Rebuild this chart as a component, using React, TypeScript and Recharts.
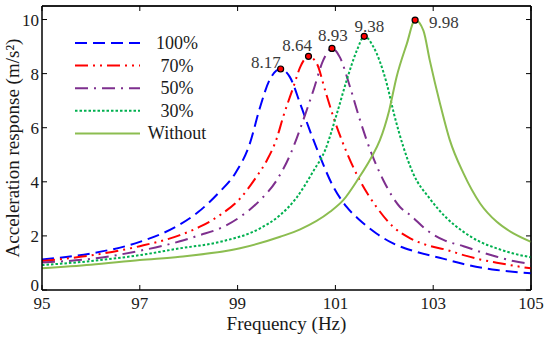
import React from 'react';
import { ComposedChart, Line, Scatter, XAxis, YAxis, ReferenceLine } from 'recharts';

// ---------- data ----------
const seriesNames = ['100%', '70%', '50%', '30%', 'Without'];

const freq100 = [95, 96, 97, 97.8, 98.2, 98.6, 98.95, 99.25, 99.45, 99.65, 99.88, 100.07, 100.28, 100.45, 100.62, 100.96, 101.23, 101.5, 101.84, 102.18, 102.66, 103.2, 103.62, 104.3, 105];
const acc100 = [1.13, 1.35, 1.78, 2.4, 2.89, 3.57, 4.31, 5.41, 6.7, 7.75, 8.17, 7.87, 6.89, 6.03, 5.23, 3.81, 3.07, 2.58, 2.09, 1.72, 1.41, 1.16, 0.96, 0.74, 0.62];

const freq70 = [95, 96, 97, 97.82, 98.23, 98.64, 99.05, 99.36, 99.6, 99.8, 99.93, 100.14, 100.28, 100.45, 100.62, 100.79, 100.96, 101.13, 101.5, 101.84, 102.18, 102.53, 102.87, 103.28, 103.62, 103.96, 104.3, 104.64, 105];
const acc70 = [1.07, 1.28, 1.62, 2.03, 2.34, 2.77, 3.38, 4.12, 4.8, 5.6, 6.39, 7.5, 8.24, 8.64, 8.37, 7.38, 6.39, 5.54, 4.05, 3.07, 2.34, 1.91, 1.66, 1.48, 1.29, 1.13, 1.01, 0.9, 0.8];

const freq50 = [95, 96, 97, 97.82, 98.23, 98.64, 99.05, 99.46, 99.8, 100.07, 100.34, 100.55, 100.75, 100.93, 101.09, 101.3, 101.5, 101.74, 101.98, 102.32, 102.53, 102.87, 103.21, 103.62, 103.96, 104.3, 104.64, 105];
const acc50 = [1.02, 1.15, 1.45, 1.8, 2.03, 2.28, 2.7, 3.32, 4.06, 4.98, 6.27, 7.38, 8.49, 8.93, 8.61, 7.5, 6.3, 5.04, 4.06, 3.07, 2.77, 2.21, 1.85, 1.62, 1.41, 1.23, 1.07, 0.96];

const freq30 = [95, 96, 97, 97.82, 98.64, 99.46, 99.87, 100.2, 100.55, 100.79, 101.03, 101.23, 101.44, 101.59, 101.78, 102.05, 102.2, 102.39, 102.59, 102.93, 103.28, 103.62, 103.96, 104.3, 104.64, 105];
const acc30 = [0.92, 1.07, 1.29, 1.54, 1.78, 2.28, 2.77, 3.4, 4.4, 5.17, 6.52, 7.75, 8.86, 9.38, 8.98, 7.63, 6.5, 5.29, 4.31, 3.38, 2.65, 2.15, 1.78, 1.54, 1.35, 1.21];

const freqWithout = [95, 96, 97, 97.82, 99.05, 99.87, 100.28, 100.89, 101.16, 101.47, 101.74, 101.91, 102.1, 102.25, 102.46, 102.63, 102.8, 102.93, 103.14, 103.34, 103.62, 103.96, 104.3, 104.64, 105];
const accWithout = [0.8, 0.93, 1.11, 1.23, 1.54, 1.97, 2.24, 2.89, 3.32, 4.12, 4.92, 5.54, 6.64, 7.87, 9.1, 9.98, 9.59, 8.49, 6.89, 5.54, 4.31, 3.2, 2.52, 2.09, 1.78];

const peakFreq = [99.88, 100.45, 100.93, 101.59, 102.63];
const peakAcc = [8.17, 8.64, 8.93, 9.38, 9.98];
const peakLabels = ['8.17', '8.64', '8.93', '9.38', '9.98'];

const xDomain = [95, 105];
const yDomain = [0, 10.5];
const xTicks = [95, 97, 99, 101, 103, 105];
const yTicks = [0, 2, 4, 6, 8, 10];

// ---------- styling ----------
const FONT = '"Liberation Serif", "Times New Roman", serif';
const seriesStyles = [
  { color: '#0000FF', dash: '12 6' },
  { color: '#FF0000', dash: '13 5 2 5 2 5' },
  { color: '#7E2F8E', dash: '13 6 2 6' },
  { color: '#00B04F', dash: '2.5 2' },
  { color: '#8CBD50', dash: undefined as string | undefined },
];
const labelOffsets = [
  { dx: 0, dy: -1, anchor: 'end' },
  { dx: -11.5, dy: -5.5, anchor: 'middle' },
  { dx: 1, dy: -7, anchor: 'middle' },
  { dx: 5, dy: -4.5, anchor: 'middle' },
  { dx: 14, dy: 8, anchor: 'start' },
];

// ---------- merged table for the chart ----------
const seriesFreqs = [freq100, freq70, freq50, freq30, freqWithout];
const seriesAccs = [acc100, acc70, acc50, acc30, accWithout];
const allFreqs = Array.from(new Set([...freq100, ...freq70, ...freq50, ...freq30, ...freqWithout, ...peakFreq])).sort((a, b) => a - b);
const table = allFreqs.map((f) => {
  const row: any = { f };
  seriesFreqs.forEach((fs, s) => {
    const j = fs.indexOf(f);
    if (j >= 0) row['s' + s] = seriesAccs[s][j];
  });
  const p = peakFreq.indexOf(f);
  if (p >= 0) {
    row.peak = peakAcc[p];
    row.label = peakLabels[p];
    row.idx = p;
  }
  return row;
});

const PeakShape = (props: any) => {
  const { cx, cy, payload } = props;
  if (!payload || payload.idx == null || !Number.isFinite(cx) || !Number.isFinite(cy)) return <g />;
  const o = labelOffsets[payload.idx];
  return (
    <g>
      <circle cx={cx} cy={cy} r={3} fill="#FF0000" stroke="#000" strokeWidth={1.2} />
      <text x={cx + o.dx} y={cy + o.dy} textAnchor={o.anchor as any} fontFamily={FONT} fontSize={17} fill="#3a3a3a">
        {payload.label}
      </text>
    </g>
  );
};

const LegendBox = () => (
  <svg width={170} height={120} style={{ position: 'absolute', left: 60, top: 28, overflow: 'visible', pointerEvents: 'none' }}>
    {seriesNames.map((name, i) => {
      const y = 15 + i * 22.6;
      const s = seriesStyles[i];
      return (
        <g key={name}>
          <line x1={15} x2={80} y1={y} y2={y} stroke={s.color} strokeWidth={2} strokeDasharray={s.dash} />
          <text x={117} y={y + 6} textAnchor="middle" fontFamily={FONT} fontSize={18} fill="#1a1a1a">
            {name}
          </text>
        </g>
      );
    })}
  </svg>
);

const YLabel = (props: any) => {
  const vb = props.viewBox || {};
  const x = (vb.x ?? 0) + 19;
  const y = (vb.y ?? 0) + (vb.height ?? 0) / 2;
  return (
    <text x={x} y={y} transform={`rotate(-90 ${x} ${y})`} textAnchor="middle" fontFamily={FONT} fontSize={19} fill="#1a1a1a">
      Acceleration response (m/s²)
    </text>
  );
};

const XLabel = (props: any) => {
  const vb = props.viewBox || {};
  const x = (vb.x ?? 0) + (vb.width ?? 0) / 2;
  const y = (vb.y ?? 0) + 40;
  return (
    <text x={x} y={y} textAnchor="middle" fontFamily={FONT} fontSize={19} fill="#1a1a1a">
      Frequency (Hz)
    </text>
  );
};

const YTick = (props: any) => {
  const { x, y, payload } = props;
  const lift = payload.value === 0 ? -5 : 0;
  return (
    <text x={x} y={y + lift} dy={6} textAnchor="end" fontFamily={FONT} fontSize={17} fill="#1a1a1a">
      {payload.value}
    </text>
  );
};

const tickStyle = { fontFamily: FONT, fontSize: 17, fill: '#1a1a1a' };
const axisLine = { stroke: '#000', strokeWidth: 1.5 };
const tickLine = { stroke: '#000', strokeWidth: 1 };

export default function App() {
  const [, x1] = xDomain;
  const [, y1] = yDomain;
  return (
    <div style={{ position: 'absolute', left: 0, top: 0, width: 550, height: 340, background: '#fff' }}>
      <ComposedChart width={550} height={340} data={table} margin={{ top: 6, right: 19, bottom: 0, left: 0 }}>
        <XAxis
          xAxisId="bottom"
          dataKey="f"
          type="number"
          domain={xDomain}
          ticks={xTicks}
          height={50}
          tickSize={-5}
          tickMargin={12}
          tick={tickStyle}
          stroke="#000"
          axisLine={axisLine}
          tickLine={tickLine}
          label={<XLabel />}
        />
        <YAxis
          yAxisId="left"
          type="number"
          domain={yDomain}
          ticks={yTicks}
          width={42}
          tickSize={-5}
          tickMargin={8}
          tick={<YTick />}
          stroke="#000"
          axisLine={axisLine}
          tickLine={tickLine}
          label={<YLabel />}
        />
        <XAxis
          xAxisId="top"
          orientation="top"
          mirror
          dataKey="f"
          type="number"
          domain={xDomain}
          ticks={xTicks}
          tickSize={5}
          tickFormatter={() => ''}
          stroke="#000"
        />
        <YAxis
          yAxisId="right"
          orientation="right"
          mirror
          type="number"
          domain={yDomain}
          ticks={yTicks}
          tickSize={5}
          tickFormatter={() => ''}
          stroke="#000"
        />
        <ReferenceLine xAxisId="bottom" yAxisId="left" y={y1} stroke="#000" strokeWidth={1.5} ifOverflow="visible" />
        <ReferenceLine xAxisId="bottom" yAxisId="left" x={x1} stroke="#000" strokeWidth={1.5} ifOverflow="visible" />
        {seriesNames.map((name, i) => (
          <Line
            key={name}
            xAxisId="bottom"
            yAxisId="left"
            dataKey={'s' + i}
            name={name}
            type="monotone"
            connectNulls
            stroke={seriesStyles[i].color}
            strokeWidth={2}
            strokeDasharray={seriesStyles[i].dash}
            dot={false}
            activeDot={false}
            isAnimationActive={false}
          />
        ))}
        <Scatter
          xAxisId="top"
          yAxisId="right"
          dataKey="peak"
          shape={<PeakShape />}
          isAnimationActive={false}
        />
      </ComposedChart>
      <LegendBox />
    </div>
  );
}
